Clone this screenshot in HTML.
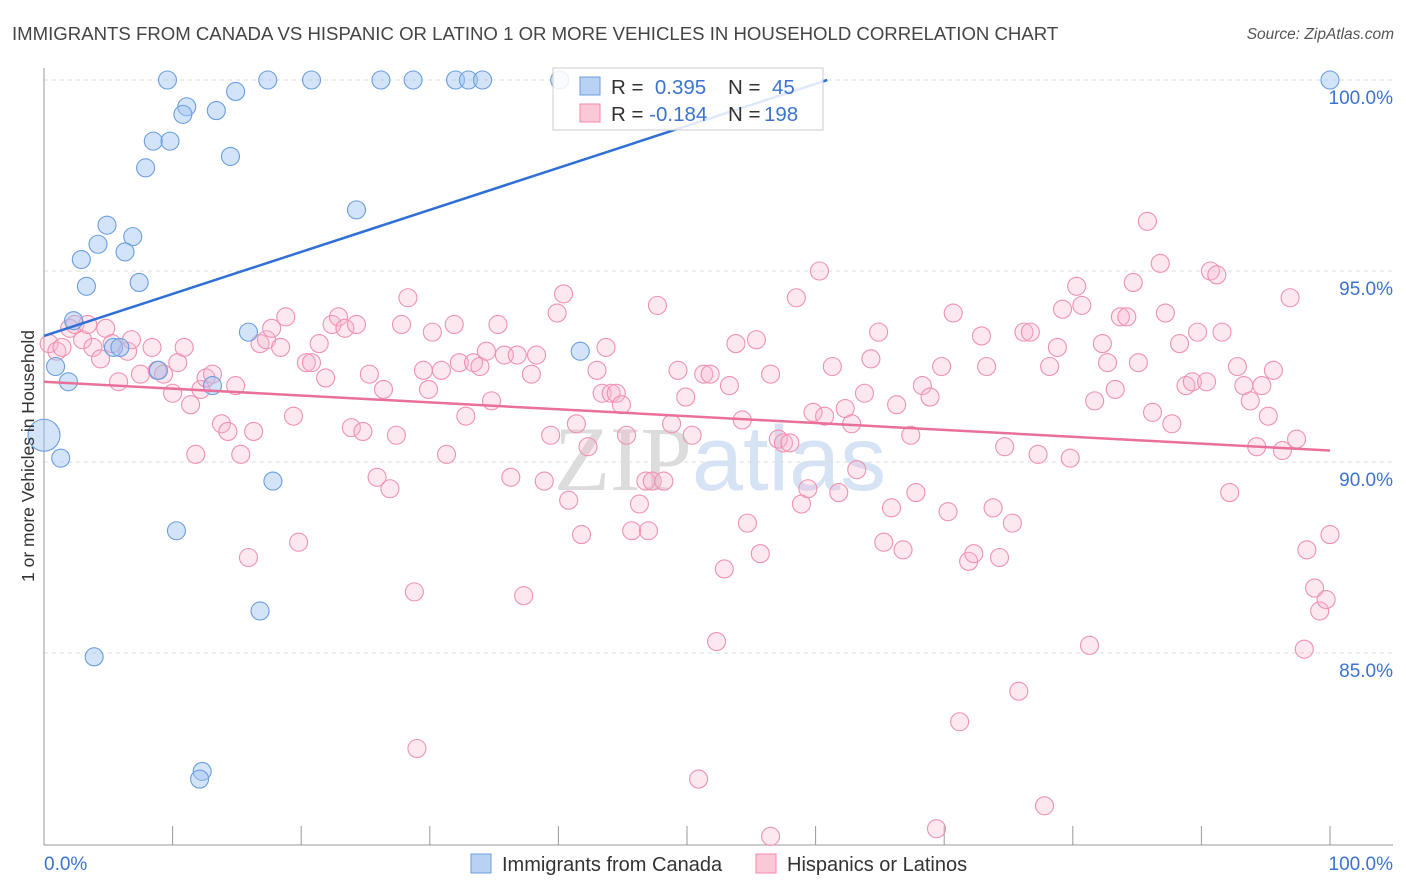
<!DOCTYPE html>
<html><head><meta charset="utf-8"><style>
body{margin:0;background:#fff;font-family:"Liberation Sans",sans-serif}
svg{display:block}
</style></head><body>
<svg id="chart" width="1406" height="892" xmlns="http://www.w3.org/2000/svg">
<text x="12" y="40" font-size="18.6" fill="#444">IMMIGRANTS FROM CANADA VS HISPANIC OR LATINO 1 OR MORE VEHICLES IN HOUSEHOLD CORRELATION CHART</text>
<text x="1394" y="39" font-size="15.5" fill="#555" font-style="italic" text-anchor="end">Source: ZipAtlas.com</text>
<text x="720" y="490" font-size="92" fill="#e4e8ee" text-anchor="middle" font-family="Liberation Serif,serif"><tspan fill="#dcdcdc">ZIP</tspan><tspan fill="#d5e3f5" font-family="Liberation Sans,sans-serif">atlas</tspan></text>
<g id="grid"></g>
<g id="axes"></g>
<g id="pts"></g>
<g id="trend"></g>
<text transform="translate(34,456) rotate(-90)" font-size="17.5" fill="#333" text-anchor="middle">1 or more Vehicles in Household</text>
<g>
<rect x="553" y="68" width="270" height="62" fill="#fff" fill-opacity="0.85" stroke="#ccc"/>
<rect x="580" y="77" width="20" height="18" fill="#b9d2f3" stroke="#6a9ee0"/>
<rect x="580" y="104" width="20" height="18" fill="#fbc8d7" stroke="#f08aaa"/>
<text x="611" y="94" font-size="20.5" fill="#333">R = <tspan fill="#3b73d1">&#160;0.395</tspan><tspan x="728">N =</tspan><tspan x="772" fill="#3b73d1">45</tspan></text>
<text x="611" y="121" font-size="20.5" fill="#333">R = <tspan fill="#3b73d1">-0.184</tspan><tspan x="728">N =</tspan><tspan x="764" fill="#3b73d1">198</tspan></text>
</g>
<g>
<rect x="471" y="854" width="20" height="19" fill="#b9d2f3" stroke="#6a9ee0"/>
<text x="502" y="871" font-size="20" fill="#333">Immigrants from Canada</text>
<rect x="756" y="854" width="20" height="19" fill="#fbc8d7" stroke="#f08aaa"/>
<text x="787" y="871" font-size="20" fill="#333">Hispanics or Latinos</text>
</g>
</svg>
<script>
const xTicks=[0,10,20,30,40,50,60,70,80,90,100];
const yTicks=[85,90,95,100];
const blueX=[9.6,17.4,20.8,26.2,28.7,32.0,33.0,34.1,40.1,100,14.9,11.1,10.8,13.4,8.5,9.8,14.5,7.9,24.3,4.9,4.2,6.9,6.3,2.9,3.3,7.4,2.3,15.9,5.4,5.9,8.9,0.9,1.9,13.1,41.7,0,1.3,17.8,10.3,16.8,3.9,12.3,12.1];
const blueY=[100,100,100,100,100,100,100,100,100,100,99.7,99.3,99.1,99.2,98.4,98.4,98.0,97.7,96.6,96.2,95.7,95.9,95.5,95.3,94.6,94.7,93.7,93.4,93.0,93.0,92.4,92.5,92.1,92.0,92.9,90.7,90.1,89.5,88.2,86.1,84.9,81.9,81.7];
const pinkX=[0.4,1.0,1.4,2.0,2.4,3.0,3.4,3.8,4.4,4.8,5.3,5.8,6.5,6.8,7.5,8.4,8.8,9.3,10.0,10.4,10.9,11.4,11.8,12.2,12.6,13.1,13.8,14.3,14.9,15.3,15.9,16.3,16.8,17.3,17.7,18.4,18.8,19.4,19.8,20.4,20.8,21.4,21.9,22.4,22.9,23.4,23.9,24.3,24.8,25.3,25.9,26.4,26.9,27.4,27.8,28.3,28.8,29.0,29.5,29.9,30.2,30.9,31.3,31.9,32.3,32.8,33.4,33.9,34.4,34.8,35.3,35.8,36.3,36.8,37.3,37.9,38.3,38.9,39.4,39.9,40.4,40.8,41.4,41.8,42.3,43.0,43.4,43.7,44.1,44.5,44.9,45.3,45.7,46.3,46.8,47.0,47.3,47.7,48.2,48.8,49.3,49.9,50.4,50.9,51.3,51.8,52.3,52.9,53.3,53.8,54.3,54.7,55.4,55.7,56.5,57.1,57.5,58.0,58.5,58.9,59.4,59.8,60.3,60.7,61.3,61.8,62.3,62.8,63.2,63.8,64.3,64.9,65.3,65.9,66.3,66.8,67.4,67.8,68.3,68.9,69.4,69.8,70.3,70.7,71.2,71.9,72.3,72.9,73.3,73.8,74.3,74.7,75.3,75.8,76.2,76.7,77.3,77.8,78.2,78.8,79.2,79.8,80.3,80.7,81.3,81.7,82.3,82.7,83.3,83.7,84.2,84.7,85.1,85.8,86.2,86.8,87.2,87.7,88.3,88.8,89.3,89.7,90.4,90.7,91.2,91.6,92.2,92.8,93.3,93.8,94.3,94.7,95.2,95.6,96.3,96.9,97.4,98.0,98.2,98.8,99.2,99.7,100.0,56.5];
const pinkY=[93.1,92.9,93.0,93.5,93.6,93.2,93.6,93.0,92.7,93.5,93.1,92.1,92.9,93.2,92.3,93.0,92.4,92.3,91.8,92.6,93.0,91.5,90.2,91.9,92.2,92.3,91.0,90.8,92.0,90.2,87.5,90.8,93.1,93.2,93.5,93.0,93.8,91.2,87.9,92.6,92.6,93.1,92.2,93.6,93.8,93.5,90.9,93.6,90.8,92.3,89.6,91.9,89.3,90.7,93.6,94.3,86.6,82.5,92.4,91.9,93.4,92.4,90.2,93.6,92.6,91.2,92.6,92.5,92.9,91.6,93.6,92.8,89.6,92.8,86.5,92.3,92.8,89.5,90.7,93.9,94.4,89.0,91.0,88.1,90.4,92.4,91.8,93.0,91.8,91.8,91.5,90.7,88.2,88.9,89.5,88.2,89.5,94.1,89.5,91.0,92.4,91.7,90.7,81.7,92.3,92.3,85.3,87.2,92.0,93.1,91.1,88.4,93.2,87.6,92.3,90.6,90.5,90.5,94.3,88.9,89.3,91.3,95.0,91.2,92.5,89.2,91.4,91.0,89.8,91.8,92.7,93.4,87.9,88.8,91.5,87.7,90.7,89.2,92.0,91.7,80.4,92.5,88.7,93.9,83.2,87.4,87.6,93.3,92.5,88.8,87.5,90.4,88.4,84.0,93.4,93.4,90.2,81.0,92.5,93.0,94.0,90.1,94.6,94.1,85.2,91.6,93.1,92.6,91.9,93.8,93.8,94.7,92.6,96.3,91.3,95.2,93.9,91.0,93.1,92.0,92.1,93.4,92.1,95.0,94.9,93.4,89.2,92.5,92.0,91.6,90.4,92.0,91.2,92.4,90.3,94.3,90.6,85.1,87.7,86.7,86.1,86.4,88.1,80.2];
const blueTrend=[93.3,104.3];
const pinkTrend=[92.1,90.3];

const NS="http://www.w3.org/2000/svg";
const X0=44,X1=1330,YB=845;
function sx(v){return X0+(X1-X0)*v/100;}
function sy(v){return 80+(100-v)*38.2;}
function mk(tag,attrs,parent){const e=document.createElementNS(NS,tag);for(const k in attrs)e.setAttribute(k,attrs[k]);document.getElementById(parent).appendChild(e);return e;}

yTicks.forEach(t=>{
  const l=mk('line',{x1:X0,x2:1393,y1:sy(t),y2:sy(t),stroke:'#ddd','stroke-dasharray':'4,4'},'grid');
  
  
  const tx=mk('text',{x:1393,y:sy(t)+24,'font-size':19,fill:'#3b73d1','text-anchor':'end'},'grid');
  tx.textContent=t.toFixed(1)+'%';
  
  
});
const ya=mk('line',{x1:X0,x2:X0,y1:68,y2:YB,stroke:'#999'},'axes');


const xa=mk('line',{x1:X0,x2:1393,y1:YB,y2:YB,stroke:'#999'},'axes');


xTicks.forEach(t=>{
  const l=mk('line',{x1:sx(t),x2:sx(t),y1:826,y2:YB,stroke:'#999'},'axes');
  
  
});
[[0,'start'],[100,'end']].forEach(([t,a])=>{
  const tx=mk('text',{x:t==0?X0:1393,y:870,'font-size':19,fill:'#3b73d1','text-anchor':a},'axes');
  tx.textContent=t.toFixed(1)+'%';
  
  
});
pinkX.forEach((x,i)=>{
  const c=mk('circle',{cx:sx(x),cy:sy(pinkY[i]),r:9,fill:'rgba(248,180,204,0.3)',stroke:'#f091b0','stroke-width':1.1},'pts');
  
  
});
blueX.forEach((x,i)=>{
  const c=mk('circle',{cx:sx(x),cy:sy(blueY[i]),r:(x==0&&blueY[i]==90.7)?16:9,fill:'rgba(160,196,240,0.45)',stroke:'#6a9ee0','stroke-width':1.1},'pts');
  
  
});
let bx1=100,by1=blueTrend[1];
if(by1>100){bx1=100*(100-blueTrend[0])/(blueTrend[1]-blueTrend[0]);by1=100;}
const bl=mk('line',{x1:sx(0),y1:sy(blueTrend[0]),x2:sx(bx1),y2:sy(by1),stroke:'#2f6fd6','stroke-width':2.5},'trend');


const pl=mk('line',{x1:sx(0),y1:sy(pinkTrend[0]),x2:sx(100),y2:sy(pinkTrend[1]),stroke:'#e8709a','stroke-width':2.5},'trend');


</script>
</body></html>
